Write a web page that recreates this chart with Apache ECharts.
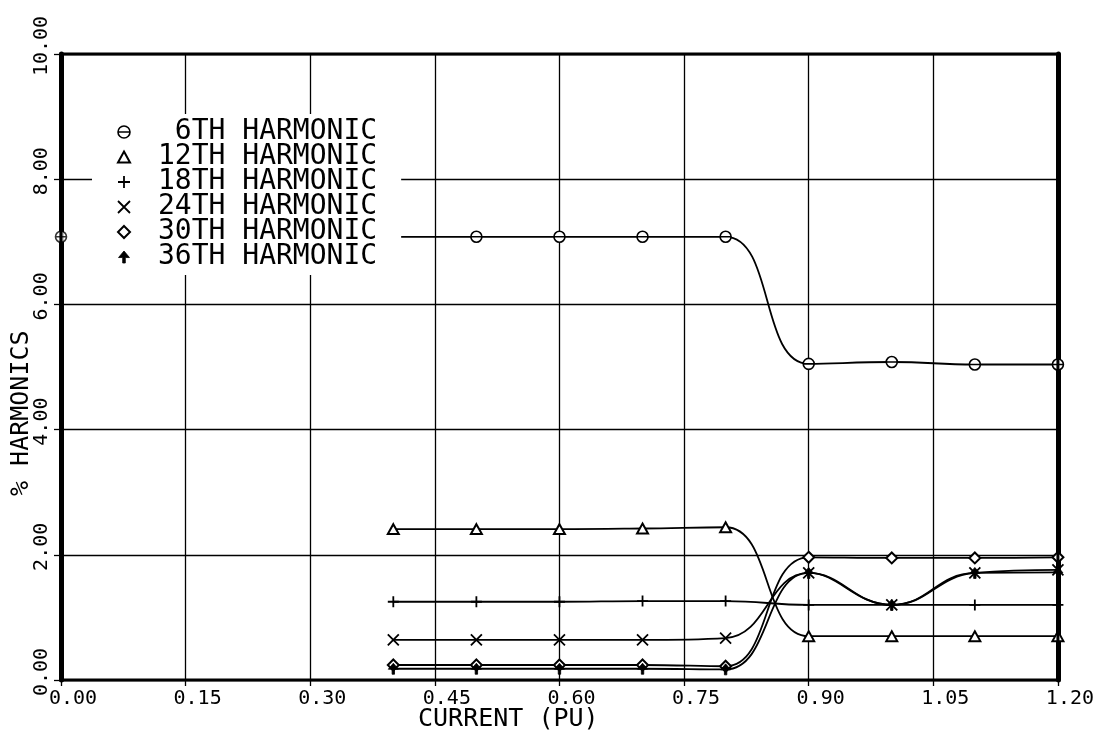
<!DOCTYPE html>
<html>
<head>
<meta charset="utf-8">
<style>
  html, body { margin: 0; padding: 0; background: #fff; }
  #chart { width: 1097px; height: 734px; }
</style>
<script src="https://cdn.jsdelivr.net/npm/echarts@6/dist/echarts.min.js"></script>
</head>
<body>
<div id="chart"></div>
<script>
// Load current (per unit) at which each harmonic level was measured
const currentPU = [0.40, 0.50, 0.60, 0.70, 0.80, 0.90, 1.00, 1.10, 1.20];

// Harmonic content, percent of fundamental
const harm6  = [7.08, 7.08, 7.08, 7.08, 7.08, 5.05, 5.08, 5.04, 5.04];
const harm12 = [2.41, 2.41, 2.41, 2.42, 2.44, 0.70, 0.70, 0.70, 0.70];
const harm18 = [1.25, 1.25, 1.25, 1.26, 1.26, 1.20, 1.20, 1.20, 1.20];
const harm24 = [0.64, 0.64, 0.64, 0.64, 0.67, 1.71, 1.20, 1.71, 1.76];
const harm30 = [0.24, 0.24, 0.24, 0.24, 0.22, 1.96, 1.95, 1.95, 1.96];
const harm36 = [0.18, 0.18, 0.18, 0.18, 0.17, 1.71, 1.20, 1.71, 1.72];

// Single 6th-harmonic reading at no load, plotted on its own
const harm6NoLoad = [[0.00, 7.08]];

const seriesNames = ['6TH HARMONIC', '12TH HARMONIC', '18TH HARMONIC',
                     '24TH HARMONIC', '30TH HARMONIC', '36TH HARMONIC'];

const xTicks = { min: 0, max: 1.2, step: 0.15 };
const yTicks = { min: 0, max: 10, step: 2 };

const FONT = 'DejaVu Sans Mono';

// Plotter-style markers
const SYM = {
  circle:  'path://M0,5A5,5,0,1,1,10,5A5,5,0,1,1,0,5ZM0,5L10,5',
  tri:     'path://M5,0L10,9L0,9Z',
  plus:    'path://M5,0L5,10M0,5L10,5',
  cross:   'path://M0,0L10,10M10,0L0,10',
  diamond: 'path://M5,0L10,5L5,10L0,5Z',
  arrow:   'path://M5,0L10,6L6.2,6L6.2,11L3.8,11L3.8,6L0,6Z'
};
const markerStyle = {
  circle:  { color: '#fff', borderColor: '#000', borderWidth: 1.6 },
  tri:     { color: '#fff', borderColor: '#000', borderWidth: 2 },
  plus:    { color: '#000', borderColor: '#000', borderWidth: 1.8 },
  cross:   { color: '#000', borderColor: '#000', borderWidth: 1.8 },
  diamond: { color: '#fff', borderColor: '#000', borderWidth: 2 },
  arrow:   { color: '#000', borderColor: '#000', borderWidth: 0.8 }
};
const markerOrder = ['circle', 'tri', 'plus', 'cross', 'diamond', 'arrow'];
const values = [harm6, harm12, harm18, harm24, harm30, harm36];

const pairs = ys => currentPU.map((x, i) => [x, ys[i]]);

const lineSeries = values.map((ys, k) => ({
  name: seriesNames[k],
  type: 'line',
  data: pairs(ys),
  smooth: 0.45,
  symbol: SYM[markerOrder[k]],
  symbolSize: 11,
  symbolKeepAspect: true,
  showAllSymbol: true,
  itemStyle: markerStyle[markerOrder[k]],
  lineStyle: { color: '#000', width: 1.8 },
  z: 3,
  animation: false
}));

lineSeries.push({
  name: seriesNames[0],
  type: 'scatter',
  data: harm6NoLoad,
  symbol: SYM.circle,
  symbolSize: 11,
  itemStyle: markerStyle.circle,
  z: 3,
  animation: false
});

const chart = echarts.init(document.getElementById('chart'), null, { renderer: 'canvas' });

chart.setOption({
  backgroundColor: '#fff',
  animation: false,
  textStyle: { fontFamily: FONT, color: '#000' },
  grid: {
    left: 61, right: 38, top: 54, bottom: 54,
    show: true, borderColor: '#000', borderWidth: 3, backgroundColor: 'transparent', z: 4
  },
  xAxis: {
    type: 'value',
    min: xTicks.min, max: xTicks.max, interval: xTicks.step,
    axisLine: { show: false },
    axisTick: { show: true, length: 6, lineStyle: { color: '#000', width: 1.3 } },
    splitLine: { show: true, lineStyle: { color: '#000', width: 1.3 } },
    axisLabel: {
      fontFamily: FONT, fontSize: 20, color: '#000', margin: 9,
      padding: [0, 0, 0, 24],
      formatter: v => v.toFixed(2)
    }
  },
  yAxis: [{
    type: 'value',
    min: yTicks.min, max: yTicks.max, interval: yTicks.step,
    axisLine: { show: true, lineStyle: { color: '#000', width: 5 } },
    axisTick: { show: true, length: 7, lineStyle: { color: '#000', width: 1.3 } },
    splitLine: { show: true, lineStyle: { color: '#000', width: 1.3 } },
    axisLabel: {
      fontFamily: FONT, fontSize: 20, color: '#000', margin: 9, rotate: 90,
      padding: [0, 0, 0, 16],
      formatter: v => v.toFixed(2)
    }
  }, {
    type: 'value', position: 'right',
    min: yTicks.min, max: yTicks.max, interval: yTicks.step,
    axisLine: { show: true, lineStyle: { color: '#000', width: 5 } },
    axisTick: { show: false }, axisLabel: { show: false }, splitLine: { show: false }
  }],
  legend: {
    orient: 'vertical',
    left: 92, top: 114,
    padding: [4, 24, 4, 25],
    itemGap: -3,
    itemWidth: 12, itemHeight: 12,
    backgroundColor: '#fff',
    selectedMode: false,
    z: 10,
    formatter: name => name.padStart(13, ' '),
    textStyle: { fontFamily: FONT, fontSize: 28, color: '#000', padding: [0, 0, 0, 23] },
    data: seriesNames.map((n, k) => ({
      name: n,
      icon: SYM[markerOrder[k]],
      itemStyle: markerStyle[markerOrder[k]]
    }))
  },
  graphic: [
    {
      type: 'text', left: 418, top: 707,
      style: { text: 'CURRENT (PU)', font: '25px "DejaVu Sans Mono"', fill: '#000' }
    },
    {
      type: 'text', x: 9, y: 496, rotation: Math.PI / 2,
      style: { text: '% HARMONICS', font: '25px "DejaVu Sans Mono"', fill: '#000' }
    }
  ],
  series: lineSeries
});
</script>
</body>
</html>
